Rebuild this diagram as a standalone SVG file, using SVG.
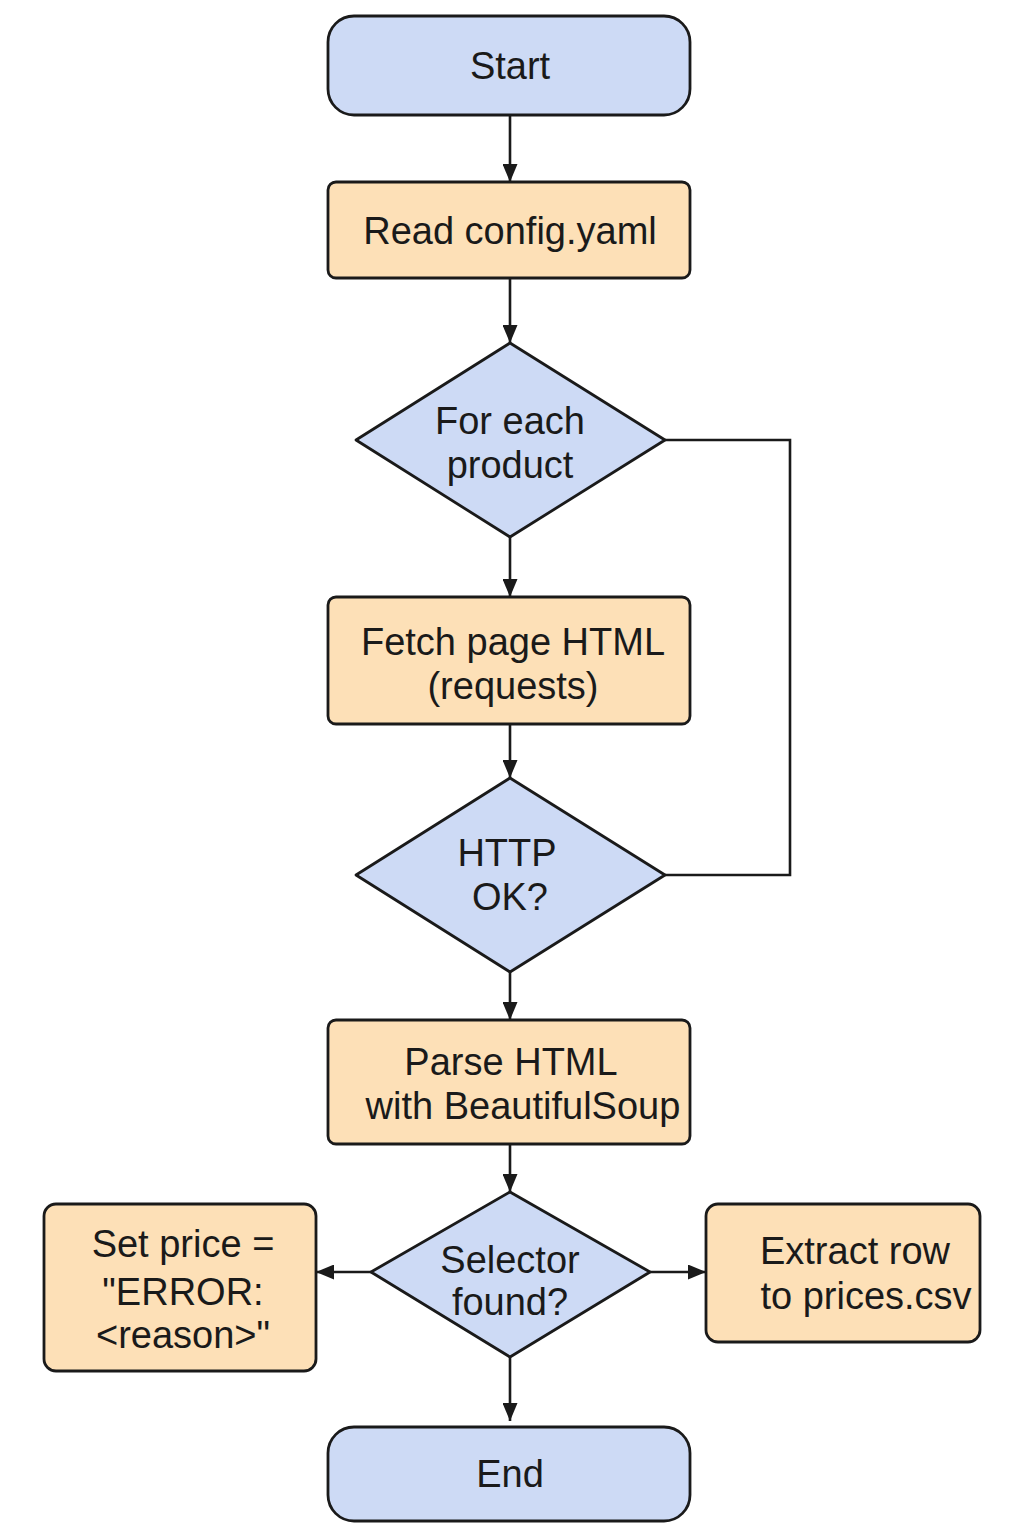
<svg xmlns="http://www.w3.org/2000/svg" width="1024" height="1536" viewBox="0 0 1024 1536">
<defs>
<style>
.term{fill:#cddaf5;stroke:#1a1a1a;stroke-width:2.8}
.proc{fill:#fde0b7;stroke:#1a1a1a;stroke-width:2.8}
.dec{fill:#cddaf5;stroke:#1a1a1a;stroke-width:2.8;stroke-linejoin:round}
.lbl{font-family:"Liberation Sans",Arial,sans-serif;font-size:38px;fill:#1a1a1a;text-anchor:middle}
.edge{fill:none;stroke:#1a1a1a;stroke-width:2.6}
</style>
<marker id="ah" markerWidth="18" markerHeight="15" refX="18" refY="7.5" orient="auto" markerUnits="userSpaceOnUse" viewBox="0 0 18 15">
<path d="M0,0 L18,7.5 L0,15 Z" fill="#1a1a1a"/>
</marker>
</defs>
<rect width="1024" height="1536" fill="#ffffff"/>
<g id="connectors">
<line class="edge" x1="510" y1="115" x2="510" y2="182" marker-end="url(#ah)"/>
<line class="edge" x1="510" y1="278" x2="510" y2="343" marker-end="url(#ah)"/>
<line class="edge" x1="510" y1="537" x2="510" y2="597" marker-end="url(#ah)"/>
<line class="edge" x1="510" y1="724" x2="510" y2="778" marker-end="url(#ah)"/>
<line class="edge" x1="510" y1="972" x2="510" y2="1020" marker-end="url(#ah)"/>
<line class="edge" x1="510" y1="1144" x2="510" y2="1192" marker-end="url(#ah)"/>
<line class="edge" x1="371" y1="1272" x2="316" y2="1272" marker-end="url(#ah)"/>
<line class="edge" x1="650" y1="1272" x2="706" y2="1272" marker-end="url(#ah)"/>
<line class="edge" x1="510" y1="1357" x2="510" y2="1421" marker-end="url(#ah)"/>
<polyline class="edge" points="665,440 790,440 790,875 665,875"/>
</g>
<g id="start">
<rect class="term" x="328" y="16" width="362" height="99" rx="26"/>
<text class="lbl" x="510" y="79">Start</text>
</g>
<g id="read">
<rect class="proc" x="328" y="182" width="362" height="96" rx="8"/>
<text class="lbl" x="510" y="244">Read config.yaml</text>
</g>
<g id="foreach">
<polygon class="dec" points="510,343 665,440 510,537 356,440"/>
<text class="lbl" x="510" y="434">For each</text>
<text class="lbl" x="510" y="478">product</text>
</g>
<g id="fetch">
<rect class="proc" x="328" y="597" width="362" height="127" rx="8"/>
<text class="lbl" x="513" y="655">Fetch page HTML</text>
<text class="lbl" x="513" y="699">(requests)</text>
</g>
<g id="httpok">
<polygon class="dec" points="510,778 665,875 510,972 356,875"/>
<text class="lbl" x="507" y="866">HTTP</text>
<text class="lbl" x="510" y="910">OK?</text>
</g>
<g id="parse">
<rect class="proc" x="328" y="1020" width="362" height="124" rx="8"/>
<text class="lbl" x="511" y="1075">Parse HTML</text>
<text class="lbl" x="523" y="1119">with BeautifulSoup</text>
</g>
<g id="selector">
<polygon class="dec" points="510,1192 650,1272 510,1357 371,1272"/>
<text class="lbl" x="510" y="1273">Selector</text>
<text class="lbl" x="510" y="1315">found?</text>
</g>
<g id="seterror">
<rect class="proc" x="44" y="1204" width="272" height="167" rx="12"/>
<text class="lbl" x="183" y="1257">Set price =</text>
<text class="lbl" x="183" y="1305">"ERROR:</text>
<text class="lbl" x="183" y="1348">&lt;reason&gt;"</text>
</g>
<g id="extract">
<rect class="proc" x="706" y="1204" width="274" height="138" rx="12"/>
<text class="lbl" x="855" y="1264">Extract row</text>
<text class="lbl" x="866" y="1309">to prices.csv</text>
</g>
<g id="end">
<rect class="term" x="328" y="1427" width="362" height="94" rx="26"/>
<text class="lbl" x="510" y="1487">End</text>
</g>
</svg>
